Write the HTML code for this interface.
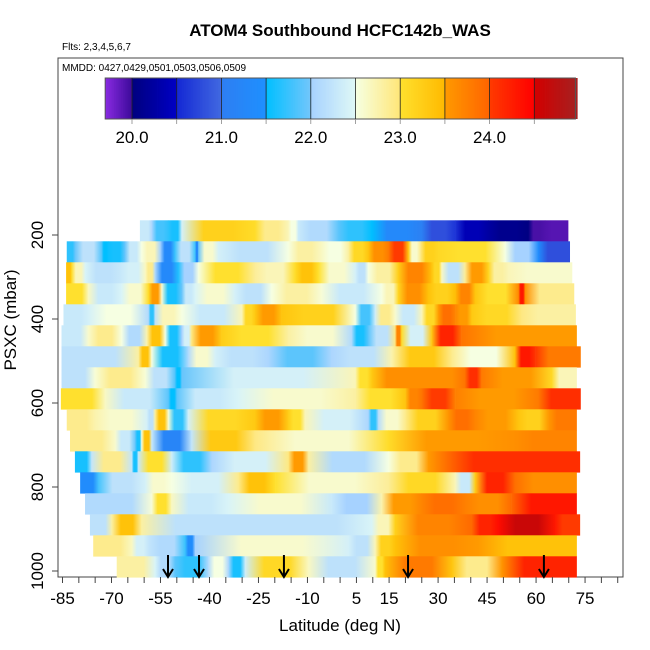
<!DOCTYPE html>
<html><head><meta charset="utf-8"><style>
html,body{margin:0;padding:0;background:#fff;}
svg{display:block;font-family:"Liberation Sans",sans-serif;}
</style></head><body>
<svg id="chart" width="650" height="650" viewBox="0 0 650 650">
<defs id="defs"></defs>
<text x="340" y="36" text-anchor="middle" font-size="17" font-weight="bold">ATOM4 Southbound HCFC142b_WAS</text>
<text x="62" y="50" font-size="10">Flts: 2,3,4,5,6,7</text>
<rect x="58" y="58" width="565" height="519" fill="none" stroke="#444" stroke-width="1"/>
<text x="62" y="71" font-size="10">MMDD: 0427,0429,0501,0503,0506,0509</text>
<g id="cbar"></g>
<g id="cells"></g>
<g id="arrows"></g>
<g id="axes"></g>
<text x="0" y="0" transform="translate(16,320) rotate(-90)" text-anchor="middle" font-size="17">PSXC (mbar)</text>
<text x="340" y="631" text-anchor="middle" font-size="17">Latitude (deg N)</text>
</svg>
<script>
const rowPressures=[190,240,290,340,390,440,490,540,590,640,690,740,790,840,890,940,990];
const rowEdges=[
[-61.3,-57.7,-52.6,-48.5,-26.1,-15.9,-12.8,-0.5,9.7,25.0,35.2,45.4,57.6,62.7,69.8],
[-83.7,-81.2,-73.0,-71.0,-65.9,-60.8,-55.1,-50.6,-44.4,-43.4,-37.3,-15.9,-5.7,2.5,8.6,14.8,20.9,24.5,30.1,50.5,60.7,70.3],
[-83.9,-82.2,-78.1,-66.9,-59.7,-56.7,-49.5,-43.4,-26.1,-13.8,-6.7,4.6,8.6,17.8,28.0,31.1,38.2,45.4,51.5,71.0],
[-83.9,-77.1,-66.9,-58.7,-54.6,-48.5,-44.4,-32.2,-21.0,-5.7,12.7,17.8,27.0,35.2,41.3,54.6,56.6,71.6],
[-84.7,-77.1,-58.7,-56.7,-48.5,-30.1,-26.1,-17.9,4.6,10.7,16.8,25.0,30.1,35.2,40.3,55.6,72.1],
[-85.3,-77.1,-66.9,-59.2,-53.6,-48.5,-45.5,-36.3,-15.9,3.5,8.6,16.8,18.8,28.0,37.2,72.4],
[-85.3,-61.8,-57.7,-46.5,-38.3,-22.0,-2.6,15.8,34.2,53.5,59.7,73.6],
[-85.3,-75.1,-59.7,-50.6,-48.5,4.6,9.7,25.0,38.2,43.3,64.8,72.4],
[-85.5,-72.0,-52.6,-50.0,-31.2,4.6,19.9,25.0,35.2,60.7,73.6],
[-83.7,-75.1,-59.2,-56.7,-52.6,-46.5,-26.1,-15.9,-10.8,8.6,11.7,19.9,33.1,41.3,54.6,63.7,72.4],
[-82.7,-68.9,-62.8,-60.8,-57.7,-45.5,-26.1,14.8,53.5,72.4],
[-81.2,-76.1,-63.8,-61.8,-51.6,-39.3,-15.9,-9.7,14.8,27.0,73.4],
[-79.6,-74.0,-59.7,-51.6,-31.2,-19.9,14.8,35.2,41.3,53.5,72.4],
[-78.1,-57.7,-51.6,-34.2,-2.6,12.7,25.0,38.2,52.5,72.4],
[-76.6,-69.9,-60.8,-26.1,9.7,16.8,40.3,48.4,65.8,73.4],
[-75.6,-63.8,-58.7,-47.5,-44.4,2.5,10.7,16.8,42.3,72.4],
[-68.4,-56.7,-50.6,-40.4,-34.2,-29.1,-9.7,10.7,13.7,34.2,49.5,72.4]
];
const rowValues=[
[22.3,21.8,21.6,23.2,22.9,22.5,22.1,21.7,21.3,20.8,20.4,20.1,19.95,19.9],
[21.7,22.2,21.5,21.6,22.3,22.7,21.3,22.2,21.3,22.6,22.2,22.8,22.5,23.1,23.6,24.0,22.6,23.2,23.0,22.0,20.8],
[23.4,22.7,22.2,22.4,22.9,21.3,22.0,23.0,22.7,23.4,22.6,22.2,22.8,23.7,23.1,22.2,23.5,22.8,22.6],
[23.0,22.3,22.6,23.5,21.6,22.3,22.6,22.2,22.8,22.3,22.7,23.6,23.2,23.7,23.0,24.3,22.9],
[22.3,22.5,21.7,22.7,22.3,23.1,23.5,23.2,21.8,22.9,22.3,23.1,23.9,23.5,23.1,22.8],
[22.3,22.9,22.1,23.4,21.6,22.4,23.5,23.0,22.6,21.6,22.2,23.7,22.4,24.2,23.5],
[22.2,23.4,21.6,22.6,22.2,21.9,22.2,23.3,22.5,24.3,23.8],
[22.2,22.9,22.2,21.5,22.4,23.0,23.6,23.6,24.1,23.5,22.7],
[23.0,22.3,21.5,22.3,22.6,23.0,23.7,24.0,23.5,24.1],
[22.9,22.6,22.2,23.4,21.7,23.1,23.5,23.0,22.4,21.7,22.6,23.2,23.9,23.5,23.2,23.8],
[22.9,22.3,21.6,23.4,21.2,23.3,22.6,23.5,23.7],
[21.6,22.9,21.6,23.0,21.7,22.4,23.5,22.1,22.9,24.1],
[21.4,22.2,22.6,22.4,23.4,22.6,23.1,22.3,24.2,23.6],
[22.1,23.0,22.3,22.6,22.0,23.5,23.9,23.6,24.3],
[22.2,23.4,22.2,22.2,22.7,23.7,24.2,24.6,24.0],
[22.9,22.4,22.1,21.4,22.6,22.2,23.2,23.6,23.4],
[22.8,22.1,21.7,22.5,21.6,23.1,22.2,23.0,23.8,22.9,24.2]
];
const arrowLats=[-52.7,-43.2,-17.2,20.8,62.4];
const xTickLabels=[-85,-70,-55,-40,-25,-10,5,15,30,45,60,75];
const yTickLabels=[200,400,600,800,1000];
const cbarLabels=[20.0,21.0,22.0,23.0,24.0];
const cbarBreaks=[20.0,20.5,21.0,21.5,22.0,22.5,23.0,23.5,24.0,24.5];

const NS="http://www.w3.org/2000/svg";
function xs(lat){return 62.5+(lat+85)*3.266;}
function ys(p){return 235+(p-200)*0.42;}
function cx(v){return 132+(v-20)*89.4;}
const sect=[[19.5,"#8a2be2","#3c0a9a"],[20.0,"#00007f","#0000c4"],[20.5,"#1428d4","#4169e1"],[21.0,"#2e7ef2","#1e90ff"],[21.5,"#00bfff","#73c6fb"],[22.0,"#a6d2ff","#dff8f6"],[22.5,"#f6ffe2","#ffe678"],[23.0,"#ffe02e","#ffba00"],[23.5,"#ff9a00","#ff6400"],[24.0,"#ff3a00","#ff0000"],[24.5,"#d20000","#a42222"]];
function hx(c){return [parseInt(c.substr(1,2),16),parseInt(c.substr(3,2),16),parseInt(c.substr(5,2),16)];}
function color(v){
  let i=Math.floor((v-19.5)/0.5); i=Math.max(0,Math.min(sect.length-1,i));
  let s=sect[i]; let t=(v-s[0])/0.5; if(i===0)t=(v-19.7)/0.3; t=Math.max(0,Math.min(1,t));
  let a=hx(s[1]),b=hx(s[2]);
  return "rgb("+a.map((q,k)=>Math.round(q+(b[k]-q)*t)).join(",")+")";
}
function mk(tag,attrs,parent){const e=document.createElementNS(NS,tag);for(const k in attrs)e.setAttribute(k,attrs[k]);parent.appendChild(e);return e;}

// colorbar
const cb=document.getElementById("cbar");
for(let v=19.7;v<24.96;v+=0.02){
  const r=mk("rect",{x:cx(v),y:78,width:89.4*0.02+0.4,height:41,fill:color(v+0.01)},cb);
  
  
}
mk("rect",{x:cx(19.7),y:78,width:cx(24.96)-cx(19.7),height:41,fill:"none",stroke:"#555","stroke-width":1},cb);
cbarBreaks.forEach(b=>{
  mk("line",{x1:cx(b),x2:cx(b),y1:78,y2:119,stroke:"#222","stroke-width":0.8},cb);
  mk("line",{x1:cx(b),x2:cx(b),y1:119,y2:124,stroke:"#888","stroke-width":0.8},cb);
});
cbarLabels.forEach(v=>{
  const t=mk("text",{x:cx(v),y:143,"text-anchor":"middle","font-size":17},cb);
  t.textContent=v.toFixed(1);
  
  
});

// heatmap rows (each segment blends softly toward its neighbours)
const defs=document.getElementById("defs");
const cells=document.getElementById("cells");
let gid=0;
rowPressures.forEach((p,ri)=>{
  const ed=rowEdges[ri],vals=rowValues[ri];
  const y0=ys(p-25),y1=ys(p+25);
  vals.forEach((v,i)=>{
    const pv=i>0?(vals[i-1]+v)/2:v, nv=i<vals.length-1?(vals[i+1]+v)/2:v;
    const id="g"+(gid++);
    const lg=mk("linearGradient",{id:id,x1:0,x2:1,y1:0,y2:0},defs);
    mk("stop",{offset:0,"stop-color":color(pv)},lg);
    mk("stop",{offset:0.3,"stop-color":color(v)},lg);
    mk("stop",{offset:0.7,"stop-color":color(v)},lg);
    mk("stop",{offset:1,"stop-color":color(nv)},lg);
    const r=mk("rect",{x:xs(ed[i]),y:y0,width:xs(ed[i+1])-xs(ed[i])+0.3,height:y1-y0+0.3,fill:"url(#"+id+")"},cells);
    
    
  });
});

// arrows
const ar=document.getElementById("arrows");
arrowLats.forEach(l=>{
  const x=xs(l);
  const g=mk("g",{},ar);
  
  
  mk("line",{x1:x,x2:x,y1:555,y2:576,stroke:"#000","stroke-width":2},g);
  mk("polyline",{points:(x-5)+",569 "+x+",577 "+(x+5)+",569",fill:"none",stroke:"#000","stroke-width":2},g);
});

// axes
const ax=document.getElementById("axes");
for(let l=-85;l<=85;l+=5){
  mk("line",{x1:xs(l),x2:xs(l),y1:577,y2:583,stroke:"#444","stroke-width":1},ax);
}
xTickLabels.forEach(l=>{
  const t=mk("text",{x:xs(l),y:604,"text-anchor":"middle","font-size":17},ax);
  t.textContent=String(l);
  
  
});
yTickLabels.forEach(p=>{
  mk("line",{x1:52,x2:58,y1:ys(p),y2:ys(p),stroke:"#444","stroke-width":1},ax);
  const t=mk("text",{x:0,y:0,"text-anchor":"middle","font-size":17,transform:"translate(43,"+ys(p)+") rotate(-90)"},ax);
  t.textContent=String(p);
  
  
});
</script>
</body></html>
